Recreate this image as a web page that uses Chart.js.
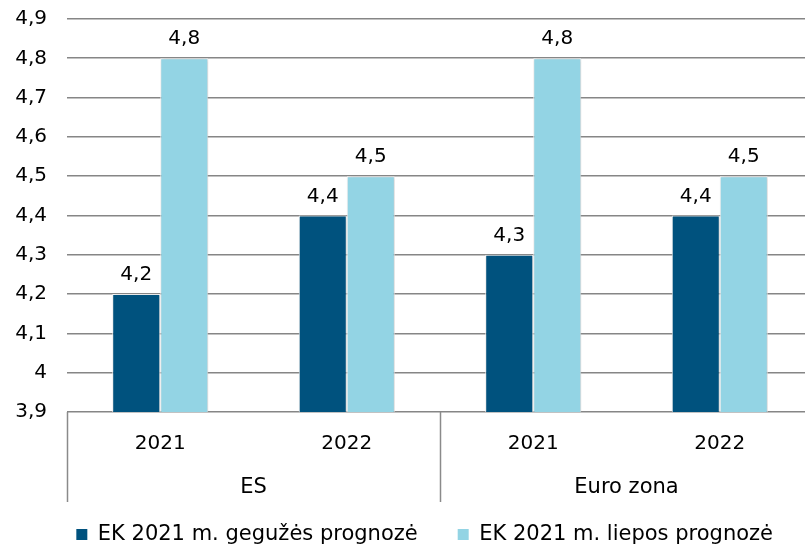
<!DOCTYPE html>
<html><head><meta charset="utf-8">
<script src="https://cdn.jsdelivr.net/npm/chart.js@4.4.0/dist/chart.umd.min.js"></script>
<style>
html,body{margin:0;padding:0;overflow:hidden;background:#fff;width:805px;height:550px}
#wrap{width:855px;height:555px;position:relative}
</style></head>
<body><div id="wrap"><canvas id="c" width="855" height="555"></canvas></div>
<script>
const categories = ['2021', '2022', '2021', '2022'];
const groups = ['ES', 'Euro zona'];
const groupSize = 2;
const seriesNames = ['EK 2021 m. gegužės prognozė', 'EK 2021 m. liepos prognozė'];
const mayForecast = [4.2, 4.4, 4.3, 4.4];
const julyForecast = [4.8, 4.5, 4.8, 4.5];
const yMin = 3.9, yMax = 4.9, yStep = 0.1;

const fmt = v => String(Number(v.toFixed(1))).replace('.', ',');
const FONT = 'DejaVu Sans';
Chart.defaults.font.family = FONT;
Chart.defaults.font.size = 19;
Chart.defaults.color = '#000';

const shadowPlugin = {
  id: 'shadowAndLabels',
  beforeDatasetsDraw(chart) {
    const ctx = chart.ctx;
    ctx.save();
    ctx.shadowColor = 'rgba(0,0,0,0.22)';
    ctx.shadowBlur = 4;
    ctx.shadowOffsetX = 1;
    ctx.shadowOffsetY = 0;
  },
  afterDatasetsDraw(chart) {
    const ctx = chart.ctx;
    ctx.restore();
    ctx.save();
    ctx.font = '20px "' + FONT + '"';
    ctx.fillStyle = '#000';
    ctx.textAlign = 'center';
    ctx.textBaseline = 'alphabetic';
    chart.data.datasets.forEach((ds, di) => {
      chart.getDatasetMeta(di).data.forEach((el, i) => {
        ctx.fillText(fmt(ds.data[i]), el.x, el.y - 14);
      });
    });
    ctx.restore();
  },
  afterDraw(chart) {
    const ctx = chart.ctx;
    const xs = chart.scales.x;
    const area = chart.chartArea;
    const n = categories.length;
    const step = (area.right - area.left) / n;
    ctx.save();
    ctx.strokeStyle = '#8a8a8a';
    ctx.lineWidth = 1.5;
    for (let g = 0; g <= groups.length; g++) {
      const idx = g * groupSize;
      const x = idx < n ? xs.getPixelForValue(idx) - step / 2 : xs.getPixelForValue(n - 1) + step / 2;
      ctx.beginPath();
      ctx.moveTo(Math.round(x) + 0.5, area.bottom);
      ctx.lineTo(Math.round(x) + 0.5, area.bottom + 90);
      ctx.stroke();
    }
    ctx.font = '21px "' + FONT + '"';
    ctx.fillStyle = '#000';
    ctx.textAlign = 'center';
    ctx.textBaseline = 'middle';
    groups.forEach((name, g) => {
      const a = xs.getPixelForValue(g * groupSize);
      const b = xs.getPixelForValue(g * groupSize + groupSize - 1);
      ctx.fillText(name, (a + b) / 2, area.bottom + 76);
    });
    ctx.restore();
  }
};

new Chart(document.getElementById('c'), {
  type: 'bar',
  data: {
    labels: categories,
    datasets: [
      { label: seriesNames[0], data: mayForecast, backgroundColor: '#00527e', borderColor: '#ffffff', borderWidth: 1 },
      { label: seriesNames[1], data: julyForecast, backgroundColor: '#93d4e4', borderColor: '#ffffff', borderWidth: 1 }
    ]
  },
  options: {
    responsive: false,
    animation: false,
    devicePixelRatio: 1,
    layout: { padding: { top: 19, left: 0, right: 42, bottom: 0 } },
    datasets: { bar: { categoryPercentage: 0.515, barPercentage: 1 } },
    scales: {
      x: {
        grid: { display: false },
        border: { display: false },
        ticks: { padding: 12, font: { size: 20 }, color: '#000', maxRotation: 0 },
        afterFit(s) { s.height = 72; }
      },
      y: {
        min: yMin, max: yMax,
        grid: { color: '#868686', lineWidth: 1.6, drawTicks: true, tickLength: 20, tickColor: 'rgba(0,0,0,0)' },
        border: { display: false },
        ticks: { stepSize: yStep, padding: 0, font: { size: 20 }, color: '#000', callback: v => fmt(v) },
        afterFit(s) { s.width = 67; }
      }
    },
    plugins: {
      tooltip: { enabled: false },
      legend: {
        position: 'bottom',
        align: 'end',
        labels: {
          boxWidth: 11, boxHeight: 11, padding: 40,
          font: { size: 21 }, color: '#000',
          generateLabels(chart) {
            const items = Chart.defaults.plugins.legend.labels.generateLabels(chart);
            items.forEach(it => { it.lineWidth = 0; it.strokeStyle = 'rgba(0,0,0,0)'; });
            return items;
          }
        }
      }
    }
  },
  plugins: [shadowPlugin]
});
</script></body></html>
